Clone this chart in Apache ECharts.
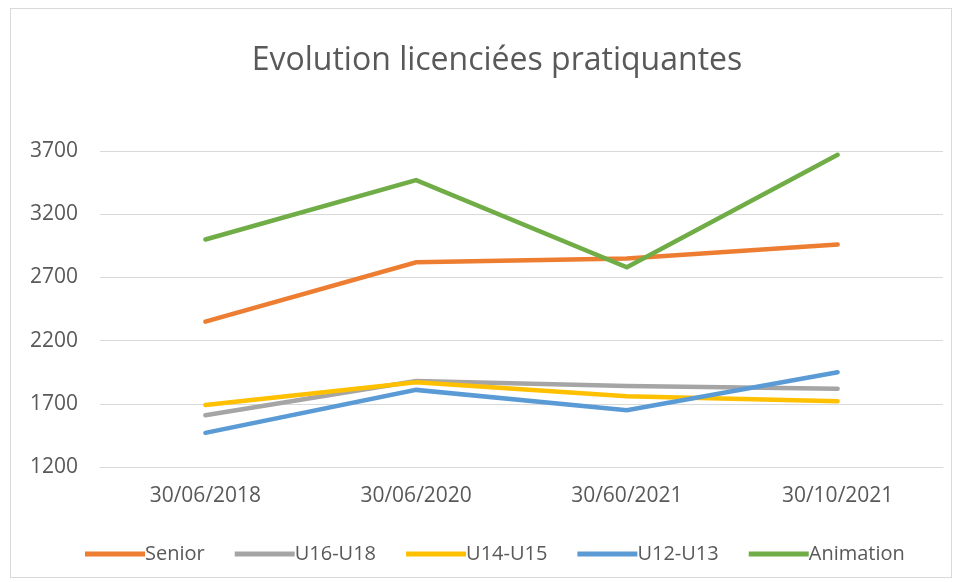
<!DOCTYPE html>
<html>
<head>
<meta charset="utf-8">
<script src="https://cdn.jsdelivr.net/npm/echarts@6/dist/echarts.min.js"></script>
<style>
html,body{margin:0;padding:0;background:#fff;}
#frame{position:absolute;left:10px;top:8px;width:940px;height:568px;border:1px solid #d9d9d9;}
#chart{position:absolute;left:0;top:0;width:962px;height:582px;}
</style>
</head>
<body>
<div id="frame"></div>
<div id="chart"></div>
<script>
var chartDom = document.getElementById('chart');
var myChart = echarts.init(chartDom);

var dates = ['30/06/2018', '30/06/2020', '30/60/2021', '30/10/2021'];
var senior = [2350, 2820, 2850, 2960];
var u16u18 = [1610, 1880, 1840, 1820];
var u14u15 = [1690, 1870, 1760, 1720];
var u12u13 = [1470, 1810, 1650, 1950];
var animation = [3000, 3470, 2780, 3670];
var names = ['Senior', 'U16-U18', 'U14-U15', 'U12-U13', 'Animation'];
var colors = ['#ED7D31', '#A5A5A5', '#FFC000', '#5B9BD5', '#70AD47'];

var txt = '#595959';
var font = '"Open Sans", sans-serif';

function mkSerie(name, data, color) {
    return {
        name: name,
        type: 'line',
        data: data,
        color: color,
        symbol: 'none',
        lineStyle: {width: 4.5, color: color, cap: 'round', join: 'miter'},
        emphasis: {disabled: true}
    };
}

var option = {
    animation: false,
    title: {
        text: 'Evolution licenciées pratiquantes',
        left: 492,
        textAlign: 'center',
        top: 40,
        textStyle: {fontFamily: font, fontSize: 32, fontWeight: 'normal', color: txt}
    },
    legend: {
        top: 539,
        left: 80,
        icon: 'rect',
        itemWidth: 60,
        itemHeight: 5,
        itemGap: 30,
        textStyle: {fontFamily: font, fontSize: 20, color: txt, padding: [0, 0, 0, -5]},
        data: names
    },
    grid: {left: 100, right: 19, top: 151, bottom: 115},
    xAxis: {
        type: 'category',
        data: dates,
        axisLine: {lineStyle: {color: '#d9d9d9', width: 1}},
        axisTick: {show: false},
        axisLabel: {fontFamily: font, fontSize: 21, color: txt, margin: 19}
    },
    yAxis: {
        type: 'value',
        min: 1200,
        max: 3700,
        interval: 500,
        axisLine: {show: false},
        axisTick: {show: false},
        splitLine: {lineStyle: {color: '#d9d9d9', width: 1}},
        axisLabel: {fontFamily: font, fontSize: 21, color: txt, margin: 22,
            formatter: function (v) { return String(v); }}
    },
    series: [
        mkSerie(names[0], senior, colors[0]),
        mkSerie(names[1], u16u18, colors[1]),
        mkSerie(names[2], u14u15, colors[2]),
        mkSerie(names[3], u12u13, colors[3]),
        mkSerie(names[4], animation, colors[4])
    ]
};

option && myChart.setOption(option);
</script>
</body>
</html>
